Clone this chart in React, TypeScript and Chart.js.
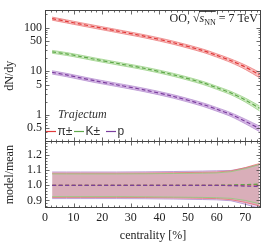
import React, { useEffect, useRef } from "react";
import { Chart, registerables } from "chart.js";

Chart.register(...registerables);

// ---- data ----
const centrality = [2.5, 7.5, 12.5, 17.5, 25, 35, 45, 55, 60, 65, 70, 75];
const pionYield = [161, 139, 120, 104, 84, 63, 45, 30, 23.2, 17.5, 12.5, 8.3];
const kaonYield = [28, 25, 21.8, 18.8, 15.3, 11.6, 8.3, 5.5, 4.23, 3.19, 2.22, 1.43];
const protonYield = [9.5, 8.27, 7.08, 6.07, 4.94, 3.72, 2.66, 1.76, 1.36, 1.03, 0.72, 0.49];
const pionErr = [0.08, 0.08, 0.08, 0.08, 0.08, 0.081, 0.083, 0.086, 0.088, 0.095, 0.115, 0.14];
const kaonErr = [0.075, 0.075, 0.075, 0.075, 0.075, 0.076, 0.078, 0.08, 0.082, 0.088, 0.105, 0.13];
const protonErr = [0.088, 0.088, 0.088, 0.088, 0.088, 0.089, 0.091, 0.094, 0.096, 0.1, 0.12, 0.145];
const pionRatio = [1, 1, 1, 1, 1, 1, 1, 1, 1, 1, 1.002, 1.004];
const kaonRatio = [1, 1, 1, 1, 1, 1, 1, 1, 1, 1.002, 1.005, 1.008];
const protonRatio = [1, 1, 1, 1, 1, 1, 1, 1, 1, 0.998, 0.995, 0.992];
const xTicks = [0, 10, 20, 30, 40, 50, 60, 70];
const yieldTicks = [0.5, 1, 5, 10, 50, 100];
const ratioTicks = [0.9, 1.0, 1.1, 1.2];
const speciesLabels = ["π±", "K±", "p"];
const modelName = "Trajectum";
const systemLabel = { pre: "OO, ", s: "s", sub: "NN", post: " = 7 TeV" };

const SERIF = '"Liberation Serif", "Times New Roman", serif';
const SANS = '"Liberation Sans", Arial, sans-serif';

const styles = [
  { line: "#e03a3a", edge: "#e87070", band: "rgba(247,170,170,0.75)", rband: "rgba(215,105,115,0.38)" },
  { line: "#5fa84a", edge: "#8fcc7a", band: "rgba(195,230,180,0.8)", rband: "rgba(160,190,120,0.12)" },
  { line: "#7b3f9e", edge: "#b08acb", band: "rgba(205,168,225,0.8)", rband: "rgba(195,150,220,0.4)" },
];

const yields = [pionYield, kaonYield, protonYield];
const errs = [pionErr, kaonErr, protonErr];
const ratios = [pionRatio, kaonRatio, protonRatio];

function pts(vals: number[]) {
  return centrality.map((c, i) => ({ x: c, y: vals[i] }));
}

function buildDatasets() {
  const ds: any[] = [];
  yields.forEach((v, k) => {
    ds.push({
      data: pts(v), yAxisID: "y", borderColor: styles[k].line, borderWidth: 1.2,
      borderDash: [4, 2.5], pointRadius: 0, fill: false, order: 0, tension: 0.3,
    });
  });
  [2, 1, 0].forEach((k) => {
    ds.push({
      data: pts(ratios[k]), yAxisID: "yr", borderColor: styles[k].line, borderWidth: 1.2,
      borderDash: [4, 2.5], pointRadius: 0, fill: false, order: 0,
    });
  });
  yields.forEach((v, k) => {
    const lo = v.map((y, i) => y * (1 - errs[k][i]));
    const hi = v.map((y, i) => y * (1 + errs[k][i]));
    const loIdx = ds.length;
    ds.push({
      data: pts(lo), yAxisID: "y", borderColor: styles[k].edge, borderWidth: 0.7,
      pointRadius: 0, fill: false, order: 1, tension: 0.3,
    });
    ds.push({
      data: pts(hi), yAxisID: "y", borderColor: styles[k].edge, borderWidth: 0.7,
      pointRadius: 0, fill: { target: loIdx }, backgroundColor: styles[k].band, order: 1, tension: 0.3,
    });
  });
  [1, 0, 2].forEach((k) => {
    const v = ratios[k];
    const lo = v.map((y, i) => y - errs[k][i]);
    const hi = v.map((y, i) => y + errs[k][i]);
    const loIdx = ds.length;
    ds.push({
      data: pts(lo), yAxisID: "yr", borderColor: styles[k].edge, borderWidth: 0.8,
      pointRadius: 0, fill: false, order: 1,
    });
    ds.push({
      data: pts(hi), yAxisID: "yr", borderColor: styles[k].edge, borderWidth: 0.8,
      pointRadius: 0, fill: { target: loIdx }, backgroundColor: styles[k].rband, order: 1,
    });
  });
  return ds;
}

const framePlugin = {
  id: "frame",
  afterDatasetsDraw(chart: any) {
    const { ctx, chartArea: ca, scales } = chart;
    const x = scales.x, y = scales.y, yr = scales.yr;
    const split = Math.round(y.bottom) + 0.5;
    const L = Math.round(ca.left) + 0.5, R = Math.round(ca.right) - 0.5;
    const T = Math.round(ca.top) + 0.5, B = Math.round(ca.bottom) - 0.5;
    ctx.save();
    ctx.strokeStyle = "#444";
    ctx.lineWidth = 1;
    ctx.strokeRect(L, T, R - L, B - T);
    ctx.beginPath();
    ctx.moveTo(L, split);
    ctx.lineTo(R, split);
    ctx.stroke();
    ctx.lineWidth = 0.8;
    ctx.beginPath();
    for (let v = 0; v <= 75; v += 2) {
      const px = Math.round(x.getPixelForValue(v)) + 0.5;
      if (px <= L || px >= R) continue;
      const len = v % 10 === 0 ? 4 : 2;
      ctx.moveTo(px, T); ctx.lineTo(px, T + len);
      ctx.moveTo(px, split); ctx.lineTo(px, split - len);
      ctx.moveTo(px, split); ctx.lineTo(px, split + len);
      ctx.moveTo(px, B); ctx.lineTo(px, B - len);
    }
    for (const dec of [0.1, 1, 10, 100]) {
      for (let k = 1; k <= 9; k++) {
        const v = +(k * dec).toPrecision(3);
        if (v < 0.25 || v > 250) continue;
        const py = Math.round(y.getPixelForValue(v)) + 0.5;
        if (py <= T || py >= split) continue;
        const len = yieldTicks.includes(v) ? 4 : 2;
        ctx.moveTo(L, py); ctx.lineTo(L + len, py);
        ctx.moveTo(R, py); ctx.lineTo(R - len, py);
      }
    }
    for (let i = 43; i <= 64; i++) {
      const v = i * 0.02;
      const py = Math.round(yr.getPixelForValue(v)) + 0.5;
      if (py <= split || py >= B) continue;
      const len = i % 5 === 0 ? 4 : 2;
      ctx.moveTo(L, py); ctx.lineTo(L + len, py);
      ctx.moveTo(R, py); ctx.lineTo(R - len, py);
    }
    ctx.stroke();

    ctx.fillStyle = "#333";
    ctx.textBaseline = "middle";
    ctx.textAlign = "left";
    ctx.font = `italic 12px ${SERIF}`;
    ctx.fillText(modelName, 58, 115);
    const legendX = [46, 74, 106];
    const ly = 131;
    speciesLabels.forEach((lab, k) => {
      ctx.strokeStyle = styles[k].line;
      ctx.lineWidth = 1.2;
      ctx.beginPath();
      ctx.moveTo(legendX[k], ly + 0.5);
      ctx.lineTo(legendX[k] + 10, ly + 0.5);
      ctx.stroke();
      ctx.fillStyle = "#333";
      ctx.font = `12px ${SANS}`;
      ctx.fillText(lab, legendX[k] + 11.5, ly + 1);
    });

    const base = 22;
    ctx.textBaseline = "alphabetic";
    const fMain = `12px ${SERIF}`;
    const fIt = `italic 12px ${SERIF}`;
    const fSub = `8px ${SERIF}`;
    ctx.font = fMain;
    const wPre = ctx.measureText(systemLabel.pre).width;
    const wRad = ctx.measureText("√").width;
    const wPost = ctx.measureText(systemLabel.post).width;
    ctx.font = fIt;
    const wS = ctx.measureText(systemLabel.s).width;
    ctx.font = fSub;
    const wSub = ctx.measureText(systemLabel.sub).width;
    const total = wPre + wRad + wS + wSub + wPost;
    let cx = 258 - total;
    ctx.fillStyle = "#222";
    ctx.font = fMain;
    ctx.fillText(systemLabel.pre, cx, base); cx += wPre;
    ctx.fillText("√", cx, base); cx += wRad;
    const ovStart = cx;
    ctx.font = fIt;
    ctx.fillText(systemLabel.s, cx, base); cx += wS;
    ctx.font = fSub;
    ctx.fillText(systemLabel.sub, cx, base + 2.5); cx += wSub;
    const ovEnd = cx;
    ctx.strokeStyle = "#222";
    ctx.lineWidth = 0.8;
    ctx.beginPath();
    ctx.moveTo(ovStart - 0.5, base - 10.5);
    ctx.lineTo(ovEnd, base - 10.5);
    ctx.stroke();
    ctx.font = fMain;
    ctx.fillText(systemLabel.post, cx, base);
    ctx.restore();
  },
};

export default function App() {
  const ref = useRef<HTMLCanvasElement | null>(null);
  useEffect(() => {
    if (!ref.current) return;
    Chart.defaults.font.family = SERIF;
    const tickFont = { family: SERIF, size: 12 };
    const titleFont = { family: SERIF, size: 12, lineHeight: 1 };
    const chart = new Chart(ref.current, {
      type: "line",
      data: { datasets: buildDatasets() },
      options: {
        animation: false,
        responsive: false,
        devicePixelRatio: 1,
        layout: { padding: { top: 6, right: 5, left: 0, bottom: 0 } },
        plugins: { legend: { display: false }, tooltip: { enabled: false } },
        scales: {
          x: {
            type: "linear", position: "bottom", min: 0, max: 75.5,
            grid: { display: false, drawTicks: false }, border: { display: false },
            afterBuildTicks: (s: any) => { s.ticks = xTicks.map((v) => ({ value: v })); },
            afterFit: (s: any) => { s.height = 34; },
            ticks: { font: tickFont, color: "#222", padding: 3, maxRotation: 0, autoSkip: false, callback: (v: any) => String(v) },
            title: { display: true, text: "centrality [%]", font: titleFont, color: "#222", padding: { top: 0, bottom: 0 } },
          },
          yr: {
            type: "linear", position: "left", min: 0.85, max: 1.29,
            stack: "panels", stackWeight: 68,
            grid: { display: false, drawTicks: false }, border: { display: false },
            afterBuildTicks: (s: any) => { s.ticks = ratioTicks.map((v) => ({ value: v })); },
            afterFit: (s: any) => { s.width = 45; },
            ticks: { font: tickFont, color: "#222", padding: 3, autoSkip: false, callback: (v: any) => Number(v).toFixed(1) },
            title: { display: true, text: "model/mean", font: titleFont, color: "#222", padding: { top: 4, bottom: 0 } },
          },
          y: {
            type: "logarithmic", position: "left", min: 0.25, max: 250,
            stack: "panels", stackWeight: 134,
            grid: { display: false, drawTicks: false }, border: { display: false },
            afterBuildTicks: (s: any) => { s.ticks = yieldTicks.map((v) => ({ value: v })); },
            afterFit: (s: any) => { s.width = 45; },
            ticks: { font: tickFont, color: "#222", padding: 3, autoSkip: false, callback: (v: any) => String(v) },
            title: { display: true, text: "dN/dy", font: titleFont, color: "#222", padding: { top: 4, bottom: 0 } },
          },
        },
      },
      plugins: [framePlugin],
    } as any);
    return () => chart.destroy();
  }, []);
  return (
    <div style={{ position: "fixed", left: 0, top: 0, width: 266, height: 242, background: "#fff" }}>
      <canvas ref={ref} width={266} height={242} style={{ width: 266, height: 242, display: "block" }} />
    </div>
  );
}
